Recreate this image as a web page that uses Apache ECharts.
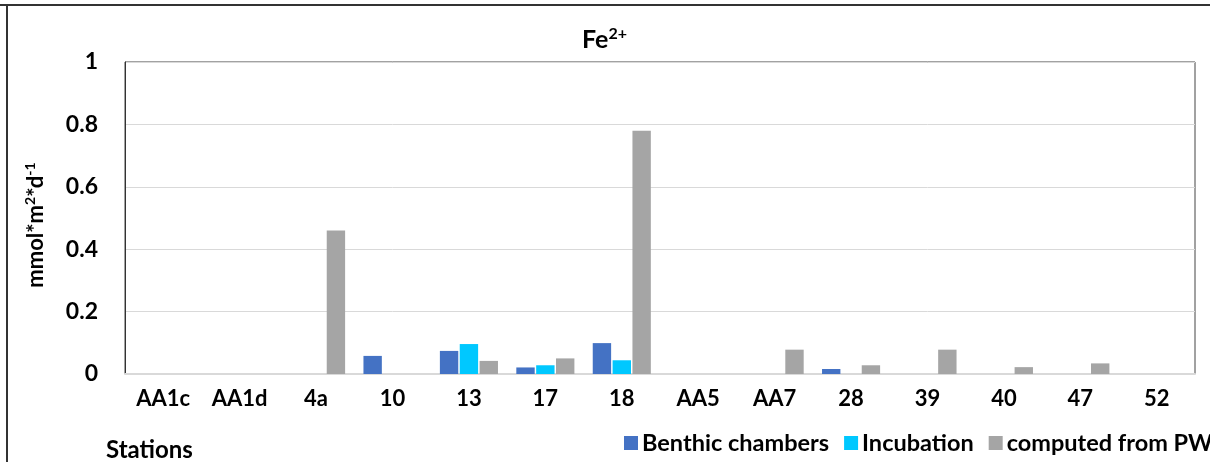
<!DOCTYPE html>
<html><head><meta charset="utf-8">
<script src="https://cdn.jsdelivr.net/npm/echarts@6/dist/echarts.min.js"></script>
<style>html,body{margin:0;padding:0;background:#fff}#c{width:1210px;height:462px}</style>
</head><body><div id="c"></div>
<script>
const categories = ['AA1c','AA1d','4a','10','13','17','18','AA5','AA7','28','39','40','47','52'];
const benthic = [null,null,null,0.058,0.074,0.021,0.099,null,null,0.016,null,null,null,null];
const incubation = [null,null,null,null,0.096,0.028,0.044,null,null,null,null,null,null,null];
const computedPW = [null,null,0.46,null,0.042,0.05,0.78,null,0.078,0.028,0.078,0.022,0.034,null];
const yTicks = [0,0.2,0.4,0.6,0.8,1];
const seriesNames = ['Benthic chambers','Incubation','computed from PW'];
const colors = ['#4472C4','#00C8FF','#A5A5A5'];

const FONT = 'Lato';
const chart = echarts.init(document.getElementById('c'), null, {renderer:'canvas'});
const mk = (name, data, color) => ({
  name, type:'bar', data, itemStyle:{color}, barCategoryGap:'24%', barGap:'8%'
});
chart.setOption({
  animation:false,
  textStyle:{fontFamily:FONT},
  grid:{left:125,right:15,top:62,bottom:88,show:true,borderColor:'#444',borderWidth:1,containLabel:false},
  legend:{
    left:619, top:426, width:800, itemWidth:14, itemHeight:14, itemGap:15,
    icon:'rect',
    textStyle:{fontFamily:FONT,fontWeight:'bold',fontSize:23.5,color:'#000',padding:[0,0,0,-1]},
    data:seriesNames
  },
  xAxis:{
    type:'category', data:categories,
    axisLine:{show:true,lineStyle:{color:'#d9d9d9',width:2}},
    axisTick:{show:false},
    axisLabel:{fontFamily:FONT,fontWeight:'bold',fontSize:22,color:'#000',margin:14,interval:0}
  },
  yAxis:{
    type:'value', min:0, max:1, interval:0.2,
    axisLine:{show:true,lineStyle:{color:'#333',width:1}},
    axisTick:{show:false},
    splitLine:{lineStyle:{color:'#d9d9d9',width:1}},
    axisLabel:{fontFamily:FONT,fontWeight:'bold',fontSize:23,color:'#000',margin:27,
      formatter:v=>yTicks.indexOf(Math.round(v*10)/10)>=0?String(Math.round(v*10)/10):''},
    name:'{a|mmol*m}{s|2}{a|*d}{s|-1}', nameLocation:'middle', nameGap:77, nameRotate:90,
    nameTextStyle:{fontFamily:FONT,fontWeight:'bold',fontSize:22,color:'#000',padding:[0,14,0,0],
      rich:{
      a:{fontFamily:FONT,fontWeight:'bold',fontSize:22,color:'#000',lineHeight:25},
      s:{fontFamily:FONT,fontWeight:'bold',fontSize:14,color:'#000',verticalAlign:'top',lineHeight:25,padding:[0,0,9,0]}
    }}
  },
  graphic:[
    {type:'line',shape:{x1:0,y1:5,x2:1210,y2:5},style:{stroke:'#333',lineWidth:2}},
    {type:'line',shape:{x1:7,y1:5,x2:7,y2:462},style:{stroke:'#333',lineWidth:2}},
    {type:'text',left:106,top:438,style:{text:'Stations',font:'bold 24px '+FONT,fill:'#000'}},
    {type:'text',left:582,top:26,style:{text:'{a|Fe}{s|2+}',
      rich:{
        a:{fontFamily:FONT,fontWeight:'bold',fontSize:25,fill:'#000',lineHeight:28},
        s:{fontFamily:FONT,fontWeight:'bold',fontSize:16,fill:'#000',verticalAlign:'top',lineHeight:28,padding:[0,0,10,0]}
      }}}
  ],
  series:[mk(seriesNames[0],benthic,colors[0]),mk(seriesNames[1],incubation,colors[1]),mk(seriesNames[2],computedPW,colors[2])]
});
</script></body></html>
